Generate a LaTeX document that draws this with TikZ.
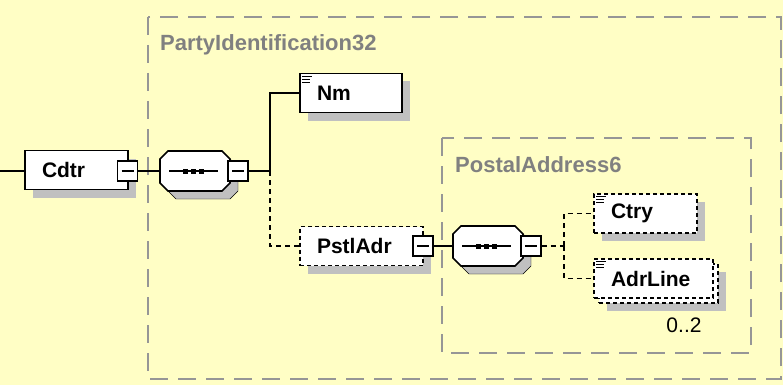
\documentclass[tikz,border=0pt]{standalone}
\usepackage{fontspec}
\newfontfamily\lsans{Liberation Sans}
\usetikzlibrary{shadows}
\definecolor{bgc}{RGB}{255,254,197}
\definecolor{grp}{RGB}{150,150,150}
\definecolor{ttl}{RGB}{128,128,128}
\definecolor{shd}{RGB}{192,192,192}
\newcommand\elfont{\lsans\bfseries\fontsize{21}{24}\selectfont}
\newcommand\octagonshape[3]{%
  \draw[#3] (#1-27,#2-20) -- (#1+27,#2-20) -- (#1+35,#2-12) -- (#1+35,#2+12) --
    (#1+27,#2+20) -- (#1-27,#2+20) -- (#1-35,#2+12) -- (#1-35,#2-12) -- cycle;}
\newcommand\seqicon[2]{%
  \draw[conn] (#1-26,#2) -- (#1+23,#2);
  \fill (#1-12,#2-2.5) rectangle ++(5,5);
  \fill (#1-4,#2-2.5) rectangle ++(5,5);
  \fill (#1+4,#2-2.5) rectangle ++(5,5);}
\newcommand\minusmark[1]{\draw[line width=1.3pt] ([xshift=-6pt]#1.center) -- ([xshift=6pt]#1.center);}
\newcommand\docicon[1]{\draw[line width=1pt,shift={(#1.north west)}] (3,3.5) -- (13,3.5) (3,6.5) -- (11,6.5) (3,9.5) -- (11,9.5);}
\tikzset{
  elem/.style={draw=black, fill=white, line width=1.6pt, rectangle, inner xsep=17pt,
    inner ysep=0pt, align=left, minimum height=39pt, font=\elfont,
    drop shadow={shadow xshift=8pt, shadow yshift=-8pt, fill=shd, opacity=1}},
  plainelem/.style={draw=black, fill=white, line width=1.6pt, rectangle, inner xsep=17pt,
    inner ysep=0pt, align=left, minimum height=39pt, font=\elfont},
  optel/.style={dash pattern=on 4pt off 3pt},
  minusbox/.style={draw=black, fill=white, line width=1.6pt, minimum size=20pt, inner sep=0pt},
  seqbox/.style={minimum width=70pt, minimum height=40pt, inner sep=0pt},
  conn/.style={line width=1.6pt},
  optconn/.style={line width=1.6pt, dash pattern=on 5pt off 4pt},
  grpbox/.style={draw=grp, line width=2pt, dash pattern=on 18pt off 10pt},
  grptitle/.style={anchor=west, text=ttl, inner sep=0pt, font=\lsans\bfseries\fontsize{22}{26}\selectfont},
}
\begin{document}
\begin{tikzpicture}[x=1pt,y=-1pt]
\fill[bgc] (0,0) rectangle (783,385);
\useasboundingbox (0,0) rectangle (783,385);
% groups
\draw[grpbox] (148,17) rectangle (781,379);
\node[grptitle] (t1) at (160,45) {PartyIdentification32};
\draw[grpbox] (442,138) rectangle (751,353);
\node[grptitle] (t2) at (455,165) {PostalAddress6};
% elements
\node[elem, text width=69pt] (cdtr) at (76.5,170) {Cdtr};
\node[elem, text width=68pt] (nm) at (351,93) {Nm};
\node[elem, optel, text width=89pt] (pstl) at (361.5,246) {PstlAdr};
\node[elem, optel, text width=69pt] (ctry) at (645.5,213.5) {Ctry};
\node[elem, optel, minimum width=119pt] (adrback) at (658.5,283.5) {};
\node[plainelem, optel, text width=85pt] (adr) at (653.5,278.5) {AdrLine};
% sequences
\node[seqbox] (seq1) at (195,171) {};
\node[seqbox] (seq2) at (488,246) {};
\octagonshape{203}{179}{fill=shd}
\octagonshape{195}{171}{fill=white, draw=black, line width=1.6pt}
\seqicon{195}{171}
\octagonshape{496}{254}{fill=shd}
\octagonshape{488}{246}{fill=white, draw=black, line width=1.6pt}
\seqicon{488}{246}
% minus boxes
\node[minusbox] (cdtrm) at (127.5,171) {};
\minusmark{cdtrm}
\node[minusbox] (seq1m) at (238,171) {};
\minusmark{seq1m}
\node[minusbox] (pstlm) at (423,246) {};
\minusmark{pstlm}
\node[minusbox] (seq2m) at (531,246) {};
\minusmark{seq2m}
% connectors
\coordinate (start) at (0,171);
\coordinate (j1) at (270,171);
\coordinate (j2) at (564,246);
\draw[conn] (start) -- (cdtr.west |- start);
\draw[conn] (cdtrm.east) -- (seq1.west);
\draw[conn] (seq1m.east) -- (j1);
\draw[conn] (j1) |- (nm.west);
\draw[optconn] (j1) |- (pstl.west);
\draw[conn] (pstlm.east) -- (seq2.west);
\draw[optconn] (seq2m.east) -- (j2);
\draw[optconn] (j2) |- (ctry.west);
\draw[optconn] (j2) |- (adr.west);
% icons
\docicon{nm}
\docicon{ctry}
\docicon{adr}
\node[font=\lsans\fontsize{21}{24}\selectfont, inner sep=0pt] (occ) at (684,325) {0..2};
\end{tikzpicture}
\end{document}
